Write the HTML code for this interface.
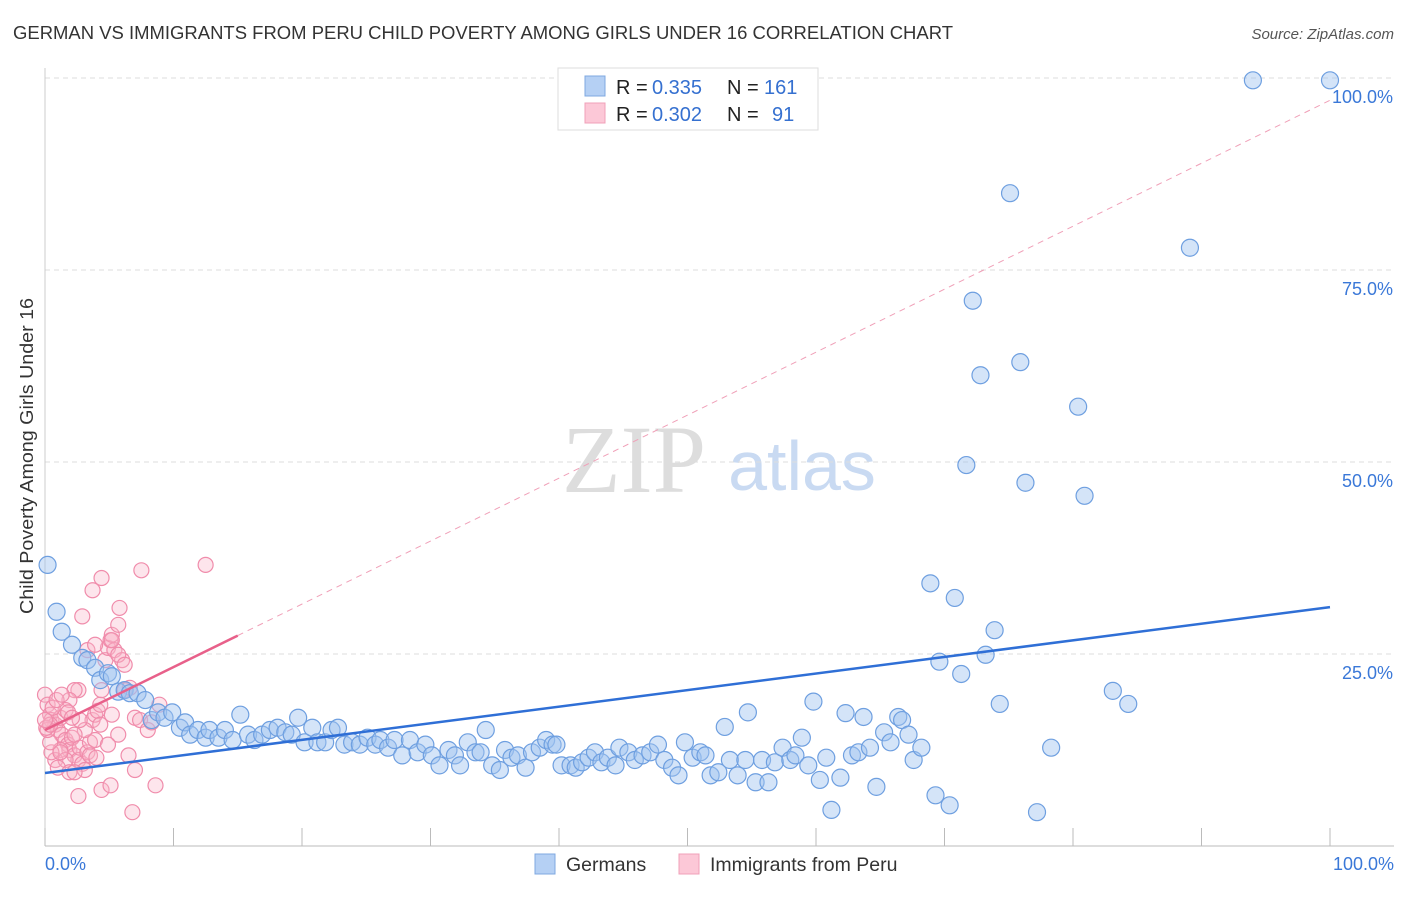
<!DOCTYPE html>
<html><head><meta charset="utf-8"><style>
body{margin:0;background:#fff;font-family:"Liberation Sans",sans-serif;}
svg text{font-family:"Liberation Sans",sans-serif;}
</style></head><body>
<svg id="chart" width="1406" height="892" xmlns="http://www.w3.org/2000/svg">
<text x="13" y="39" font-size="18" fill="#333" textLength="940" lengthAdjust="spacingAndGlyphs">GERMAN VS IMMIGRANTS FROM PERU CHILD POVERTY AMONG GIRLS UNDER 16 CORRELATION CHART</text>
<text x="1394" y="39" font-size="15" fill="#555" text-anchor="end" font-style="italic">Source: ZipAtlas.com</text>
<text transform="translate(33,456) rotate(-90)" font-size="18" fill="#333" text-anchor="middle" textLength="316" lengthAdjust="spacingAndGlyphs">Child Poverty Among Girls Under 16</text>
<g>
<text x="634" y="492" font-size="96" fill="#ddd" text-anchor="middle" font-family="Liberation Serif" style="font-family:'Liberation Serif',serif">ZIP</text>
<text x="802" y="490" font-size="70" fill="#c9daf2" text-anchor="middle">atlas</text>
</g>
<g id="grid"></g><g id="axes"></g><g id="trends"></g><g id="pts"></g>
<g>
<rect x="558" y="68" width="260" height="62" fill="#fff" stroke="#ddd"/>
<rect x="585" y="76" width="20" height="20" fill="#b5d0f4" stroke="#7fa8e0"/>
<rect x="585" y="103" width="20" height="20" fill="#fcc8d7" stroke="#f0a0b8"/>
<text x="616" y="94" font-size="20" fill="#222">R = </text><text x="652" y="94" font-size="20" fill="#3570d0">0.335</text>
<text x="727" y="94" font-size="20" fill="#222">N = </text><text x="764" y="94" font-size="20" fill="#3570d0">161</text>
<text x="616" y="121" font-size="20" fill="#222">R = </text><text x="652" y="121" font-size="20" fill="#3570d0">0.302</text>
<text x="727" y="121" font-size="20" fill="#222">N = </text><text x="772" y="121" font-size="20" fill="#3570d0">91</text>
</g>
<g>
<rect x="535" y="854" width="20" height="20" fill="#b5d0f4" stroke="#7fa8e0"/>
<text x="566" y="871" font-size="19.5" fill="#333">Germans</text>
<rect x="679" y="854" width="20" height="20" fill="#fcc8d7" stroke="#f0a0b8"/>
<text x="710" y="871" font-size="19.5" fill="#333">Immigrants from Peru</text>
</g>
</svg>
<script>
const yTicks=[25,50,75,100];
const yTickLabels=["25.0%","50.0%","75.0%","100.0%"];
const blueX=[0.2,0.9,1.3,2.1,2.9,3.3,3.9,4.3,4.9,5.2,5.7,6.2,6.6,7.2,7.8,8.3,8.8,9.3,9.9,10.5,10.9,11.3,11.9,12.5,12.8,13.5,14.0,14.6,15.2,15.8,16.3,16.9,17.5,18.1,18.7,19.2,19.7,20.2,20.8,21.2,21.8,22.3,22.8,23.3,23.9,24.5,25.1,25.7,26.1,26.7,27.2,27.8,28.4,29.0,29.6,30.1,30.7,31.4,31.9,32.3,32.9,33.5,33.9,34.3,34.8,35.4,35.8,36.3,36.8,37.4,37.9,38.5,39.0,39.5,39.8,40.2,40.9,41.3,41.8,42.3,42.8,43.3,43.8,44.4,44.7,45.4,45.9,46.5,47.1,47.7,48.2,48.8,49.3,49.8,50.4,51.0,51.4,51.8,52.4,52.9,53.3,53.9,54.5,54.7,55.3,55.8,56.3,56.8,57.4,58.0,58.4,58.9,59.4,59.8,60.3,60.8,61.2,61.9,62.3,62.8,63.3,63.7,64.2,64.7,65.3,65.8,66.4,66.7,67.2,67.6,68.2,68.9,69.3,69.6,70.4,70.8,71.3,73.2,73.9,74.3,77.2,78.3,83.1,84.3,71.7,72.2,72.8,75.1,75.9,76.3,80.4,80.9,89.1,94.0,100];
const blueY=[36.6,30.5,27.9,26.2,24.5,24.2,23.2,21.6,22.5,22.1,20.1,20.3,19.9,19.9,19.0,16.4,17.4,16.7,17.4,15.4,16.1,14.5,15.1,14.1,15.1,14.1,15.1,13.8,17.1,14.5,13.8,14.5,15.1,15.4,14.8,14.5,16.7,13.5,15.4,13.5,13.5,15.1,15.4,13.2,13.5,13.2,14.1,13.2,13.8,12.8,13.8,11.8,13.8,12.2,13.2,11.8,10.5,12.5,11.8,10.5,13.5,12.2,12.2,15.1,10.5,9.9,12.5,11.5,11.8,10.2,12.2,12.8,13.8,13.2,13.2,10.5,10.5,10.2,10.9,11.5,12.2,10.9,11.5,10.5,12.8,12.2,11.2,11.8,12.2,13.2,11.2,10.2,9.2,13.5,11.5,12.2,11.8,9.2,9.6,15.5,11.2,9.2,11.2,17.4,8.3,11.2,8.3,10.9,12.8,11.2,11.8,14.1,10.5,18.8,8.6,11.5,4.7,8.9,17.3,11.8,12.2,16.8,12.8,7.7,14.8,13.5,16.8,16.4,14.5,11.2,12.8,34.2,6.6,24.0,5.3,32.3,22.4,24.9,28.1,18.5,4.4,12.8,20.2,18.5,49.6,71.0,61.3,85.0,63.0,47.3,57.2,45.6,77.9,99.7,99.7];
const pinkX=[0,0.2,0.4,0.5,0.8,1.0,1.2,1.3,1.6,1.8,1.9,2.1,2.3,2.6,2.7,2.9,3.1,3.3,3.5,3.7,3.9,4.1,4.3,4.4,4.7,4.9,5.1,5.2,5.4,5.7,5.8,6.0,6.2,6.6,7.0,7.4,7.5,8.0,8.3,8.6,8.9,12.5,4.4,3.7,2.9,2.6,2.3,1.9,1.6,1.2,0.8,0.5,0.4,0.2,0.1,2.6,4.4,5.1,6.8,7.0,6.5,5.7,5.2,4.3,3.9,3.5,3.1,2.7,2.3,1.6,1.0,0.6,0.9,1.3,1.8,2.1,3.3,3.9,5.2,5.7,6.2,1.9,2.3,4.0,4.9,1.2,0.4,0];
const pinkY=[19.7,18.4,17.1,16.4,15.8,15.1,16.7,14.5,13.8,13.2,12.5,14.1,11.8,11.2,12.8,10.7,9.9,12.2,13.5,16.4,17.1,17.6,18.4,20.3,24.2,25.8,26.8,27.5,25.5,28.8,31.0,24.2,20.3,20.6,16.7,16.4,35.9,15.1,16.1,7.9,18.4,36.6,34.9,33.3,29.9,20.3,20.3,19.0,17.7,12.5,11.2,12.2,13.5,15.1,15.4,6.5,7.3,7.9,4.4,9.9,11.8,14.5,17.1,15.8,13.8,11.8,15.1,16.4,14.5,11.2,10.2,18.0,19.0,19.7,17.4,16.7,25.5,26.2,26.8,24.9,23.6,9.6,9.6,11.5,13.2,12.2,15.8,16.4];
const blueTrend=[9.5,31.1];
const pinkTrend=[15.1,0.82];
const NS="http://www.w3.org/2000/svg";
const X=v=>45+v*12.85, Y=v=>846-v*7.68;
function mk(t,a,p){const e=document.createElementNS(NS,t);for(const k in a)e.setAttribute(k,a[k]);p.appendChild(e);return e;}
const grid=document.getElementById('grid'),axes=document.getElementById('axes'),tr=document.getElementById('trends'),pts=document.getElementById('pts');
yTicks.forEach((t,i)=>{
 const l=mk('line',{x1:45,x2:1394,y1:Y(t),y2:Y(t),stroke:'#ddd','stroke-dasharray':'5,4'},grid);
 
 
 const tx=mk('text',{x:1393,y:Y(t)+25,'font-size':18,fill:'#3a78d8','text-anchor':'end'},grid);
 tx.textContent=yTickLabels[i];
 
 
});
const ax=mk('line',{x1:45,x2:1394,y1:846,y2:846,stroke:'#bbb'},axes);


const ay=mk('line',{x1:45,x2:45,y1:68,y2:846,stroke:'#ccc'},axes);


for(let i=0;i<=10;i++){const t=mk('line',{x1:X(i*10),x2:X(i*10),y1:846,y2:828,stroke:'#bbb'},axes);
 
 }
[[0,'0.0%','start',45],[100,'100.0%','end',1394]].forEach(a=>{const t=mk('text',{x:a[3],y:870,'font-size':18,fill:'#3a78d8','text-anchor':a[2]},axes);t.textContent=a[1];
 
 });
const pd=mk('line',{x1:X(15),y1:Y(pinkTrend[0]+15*pinkTrend[1]),x2:X(100),y2:Y(pinkTrend[0]+100*pinkTrend[1]),stroke:'#f0a0b8','stroke-dasharray':'6,5','stroke-width':1},tr);


pinkX.forEach((x,i)=>{const c=mk('circle',{cx:X(x),cy:Y(pinkY[i]),r:7.5,fill:'rgba(248,180,200,0.35)',stroke:'#f08cab','stroke-width':1.2},pts);
 
 });
blueX.forEach((x,i)=>{const c=mk('circle',{cx:X(x),cy:Y(blueY[i]),r:8.5,fill:'rgba(160,195,240,0.45)',stroke:'#6e9fe0','stroke-width':1.2},pts);
 
 });
const bl=mk('line',{x1:X(0),y1:Y(blueTrend[0]),x2:X(100),y2:Y(blueTrend[1]),stroke:'#2f6fd6','stroke-width':2.5},pts);


const pl=mk('line',{x1:X(0),y1:Y(pinkTrend[0]),x2:X(15),y2:Y(pinkTrend[0]+15*pinkTrend[1]),stroke:'#e8608a','stroke-width':2.5},pts);


</script>
</body></html>
